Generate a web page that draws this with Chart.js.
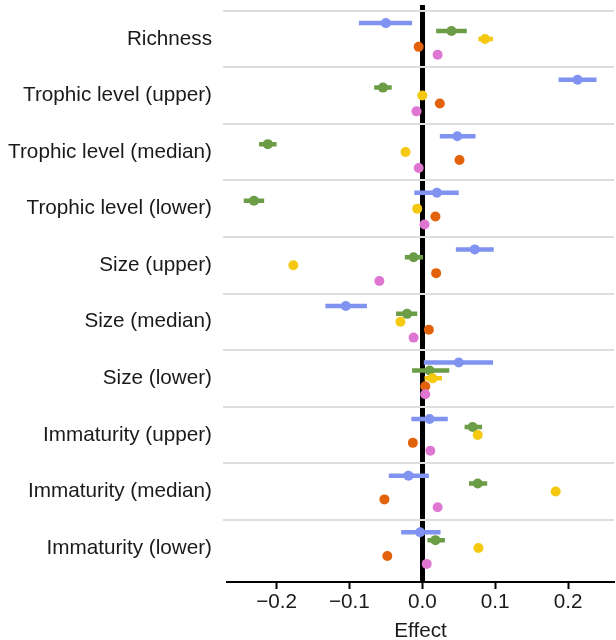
<!DOCTYPE html>
<html>
<head>
<meta charset="utf-8">
<script src="https://cdn.jsdelivr.net/npm/chart.js@4.4.0/dist/chart.umd.min.js"></script>
<style>
  html, body { margin: 0; padding: 0; background: #fff; }
  #wrap { width: 616px; height: 640px; }
</style>
</head>
<body>
<div id="wrap"><canvas id="effectChart"></canvas></div>
<script>
// Categories, top to bottom
const categories = [
  'Richness',
  'Trophic level (upper)',
  'Trophic level (median)',
  'Trophic level (lower)',
  'Size (upper)',
  'Size (median)',
  'Size (lower)',
  'Immaturity (upper)',
  'Immaturity (median)',
  'Immaturity (lower)'
];

// Effect estimates and interval ends where drawn
const blueEst = [-0.050, 0.213, 0.048, 0.020, 0.072, -0.105, 0.050, 0.010, -0.019, -0.003];
const blueLo  = [-0.087, 0.187, 0.024, -0.011, 0.046, -0.133, 0.002, -0.015, -0.046, -0.029];
const blueHi  = [-0.014, 0.239, 0.073, 0.050, 0.098, -0.076, 0.097, 0.035, 0.009, 0.025];

const greenEst = [0.040, -0.054, -0.212, -0.231, -0.012, -0.021, 0.010, 0.069, 0.076, 0.018];
const greenLo  = [0.019, -0.066, -0.224, -0.245, -0.024, -0.036, -0.014, 0.058, 0.064, 0.007];
const greenHi  = [0.061, -0.042, -0.200, -0.217, 0.001, -0.007, 0.037, 0.082, 0.089, 0.031];

const yellowEst = [0.086, 0.000, -0.023, -0.007, -0.177, -0.030, 0.014, 0.076, 0.183, 0.077];
const yellowLo  = [0.077, null, null, null, null, null, 0.003, null, null, null];
const yellowHi  = [0.097, null, null, null, null, null, 0.027, null, null, null];

const orangeEst = [-0.005, 0.024, 0.051, 0.018, 0.019, 0.009, 0.004, -0.013, -0.052, -0.048];
const pinkEst   = [0.021, -0.008, -0.005, 0.003, -0.059, -0.012, 0.004, 0.011, 0.021, 0.006];

const xTicks = [-0.2, -0.1, 0, 0.1, 0.2];
const xTickLabels = ['\u22120.2', '\u22120.1', '0.0', '0.1', '0.2'];

// Series in dodge order (top to bottom within each row)
const series = [
  { est: blueEst,   lo: blueLo,   hi: blueHi,   color: '#8093f1' },
  { est: greenEst,  lo: greenLo,  hi: greenHi,  color: '#6b9c46' },
  { est: yellowEst, lo: yellowLo, hi: yellowHi, color: '#f4c90f' },
  { est: orangeEst, lo: null,     hi: null,     color: '#e2620b' },
  { est: pinkEst,   lo: null,     hi: null,     color: '#df77d2' }
];
const dodge = [-0.28, -0.14, 0, 0.14, 0.28];

const datasets = [];
series.forEach((s, k) => {
  if (s.lo) {
    const bars = [];
    categories.forEach((c, i) => {
      if (s.lo[i] === null) return;
      const y = i + dodge[k];
      bars.push({ x: s.lo[i], y: y }, { x: s.hi[i], y: y }, { x: null, y: null });
    });
    datasets.push({
      data: bars,
      showLine: true,
      spanGaps: false,
      borderColor: s.color,
      borderWidth: 4.5,
      pointRadius: 0,
      order: 10
    });
  }
  datasets.push({
    data: s.est.map((v, i) => ({ x: v, y: i + dodge[k] })),
    backgroundColor: s.color,
    borderColor: s.color,
    borderWidth: 0,
    pointRadius: 5,
    order: 5 - k
  });
});

const textColor = '#1a1a1a';
Chart.defaults.font.family = '"Liberation Sans", Arial, sans-serif';
Chart.defaults.font.size = 20.7;
Chart.defaults.color = textColor;

new Chart(document.getElementById('effectChart'), {
  type: 'scatter',
  data: { datasets: datasets },
  options: {
    responsive: true,
    maintainAspectRatio: false,
    animation: false,
    layout: {
      autoPadding: false,
      padding: { top: 5, right: 2, left: 0, bottom: 0 }
    },
    plugins: {
      legend: { display: false },
      tooltip: { enabled: false }
    },
    scales: {
      x: {
        type: 'linear',
        min: -0.268,
        max: 0.263,
        afterBuildTicks: scale => { scale.ticks = xTicks.map(v => ({ value: v })); },
        afterFit: scale => {
          scale.height = 58;
          scale.paddingLeft = 0;
          scale.paddingRight = 0;
        },
        border: { display: true, color: '#000', width: 2 },
        grid: {
          color: ctx => (ctx.tick && ctx.tick.value === 0 ? '#000' : 'rgba(0,0,0,0)'),
          lineWidth: ctx => (ctx.tick && ctx.tick.value === 0 ? 5 : 1),
          drawTicks: true,
          tickLength: 7,
          tickColor: '#000',
          tickWidth: 2
        },
        ticks: {
          padding: 1,
          color: textColor,
          callback: (v) => xTickLabels[xTicks.indexOf(v)]
        },
        title: {
          display: true,
          text: 'Effect',
          color: textColor,
          padding: { top: 0, bottom: -4 }
        }
      },
      y: {
        type: 'linear',
        reverse: true,
        min: -0.6,
        max: 9.6,
        afterBuildTicks: scale => {
          const t = [];
          categories.forEach((c, i) => {
            t.push({ value: i - 0.5 });
            t.push({ value: i });
          });
          scale.ticks = t;
        },
        afterFit: scale => {
          scale.width = 227;
          scale.paddingTop = 0;
          scale.paddingBottom = 0;
        },
        border: { display: false },
        grid: {
          color: ctx => (ctx.tick && Number.isInteger(ctx.tick.value) ? 'rgba(0,0,0,0)' : '#dedede'),
          lineWidth: 2,
          drawTicks: true,
          tickLength: 4
        },
        ticks: {
          padding: 11,
          color: textColor,
          autoSkip: false,
          callback: (v) => (Number.isInteger(v) ? categories[v] : '')
        }
      }
    }
  }
});
</script>
</body>
</html>
